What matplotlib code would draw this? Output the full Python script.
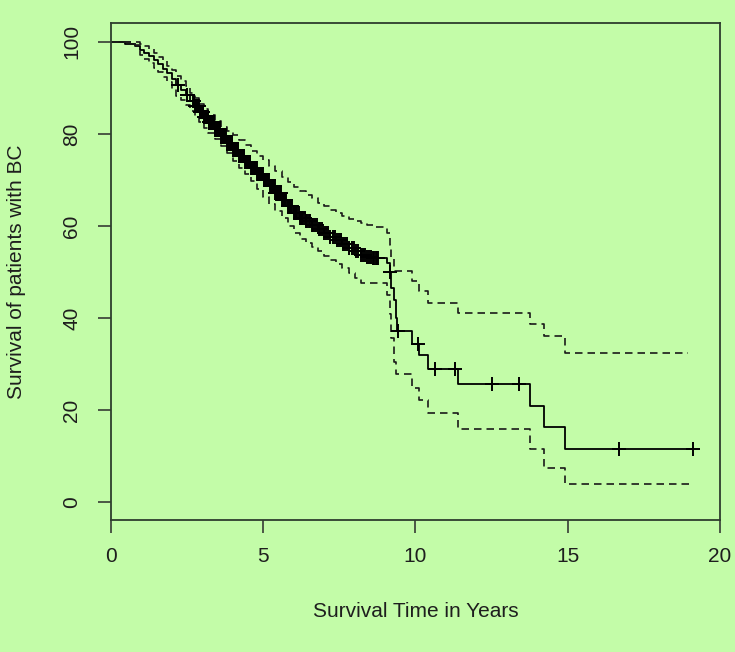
import numpy as np
import matplotlib.pyplot as plt

# Kaplan-Meier estimate (percent surviving)
time = [0, 0.45, 0.8, 0.95, 1.1, 1.25, 1.4, 1.55, 1.7, 1.85, 2.0, 2.15, 2.3, 2.45, 2.6,
        2.75, 2.9, 3.05, 3.2, 3.4, 3.6, 3.8, 4.0, 4.2, 4.4, 4.6, 4.8, 5.0, 5.2, 5.4,
        5.6, 5.8, 6.0, 6.2, 6.4, 6.6, 6.8, 7.0, 7.2, 7.4, 7.6, 7.8, 8.0, 8.2, 8.4,
        8.6, 9.05, 9.15, 9.2, 9.3, 9.35, 9.4, 9.9, 10.1, 10.4, 11.38, 13.76, 14.23,
        14.9, 19.1]
surv = [100, 99.6, 99.0, 98.3, 97.6, 96.9, 96.0, 95.2, 94.2, 93.2, 92.0, 90.6, 89.6, 88.4,
        87.2, 86.0, 84.8, 83.6, 82.5, 81.0, 79.6, 78.0, 76.6, 75.2, 73.9, 72.6, 71.3,
        70.0, 68.6, 67.2, 65.7, 64.3, 62.9, 61.8, 61.0, 60.2, 59.3, 58.5, 57.7, 56.9,
        56.1, 55.3, 54.5, 53.7, 53.3, 53.0, 52.0, 50.0, 46.6, 44.0, 40.0, 37.2, 34.5,
        32.0, 29.0, 25.7, 20.9, 16.3, 11.7, 11.7]

upper_time = [0, 0.8, 0.95, 1.1, 1.25, 1.4, 1.55, 1.7, 1.85, 2.0, 2.15, 2.3, 2.45, 2.6,
              2.75, 2.9, 3.05, 3.2, 3.4, 3.6, 3.8, 4.0, 4.2, 4.4, 4.6, 4.8, 5.0, 5.2,
              5.4, 5.6, 5.8, 6.0, 6.2, 6.4, 6.6, 6.8, 7.0, 7.2, 7.4, 7.6, 7.8, 8.0, 8.2,
              8.4, 8.6, 9.05, 9.15, 9.2, 9.3, 9.9, 10.1, 10.4, 11.38, 13.76, 14.23, 14.9,
              18.95]
upper = [100, 100, 99.6, 99.0, 98.4, 97.6, 96.8, 95.8, 94.8, 93.8, 92.6, 91.6, 90.4, 89.0,
         87.8, 86.6, 85.4, 84.2, 82.9, 81.6, 80.6, 79.7, 78.6, 77.5, 76.4, 75.3, 74.3,
         73.1, 71.9, 70.7, 69.5, 68.4, 67.6, 66.8, 66.0, 65.1, 64.3, 63.6, 62.9, 62.2,
         61.6, 61.0, 60.6, 60.2, 59.8, 58.5, 56.0, 53.0, 50.2, 48.0, 45.8, 43.4, 41.1,
         38.8, 36.1, 32.5, 32.5]

lower_time = [0, 0.8, 0.95, 1.1, 1.25, 1.4, 1.55, 1.7, 1.85, 2.0, 2.15, 2.3, 2.45, 2.6,
              2.75, 2.9, 3.05, 3.2, 3.4, 3.6, 3.8, 4.0, 4.2, 4.4, 4.6, 4.8, 5.0, 5.2,
              5.4, 5.6, 5.8, 6.0, 6.2, 6.4, 6.6, 6.8, 7.0, 7.2, 7.4, 7.6, 7.8, 8.0, 8.2,
              8.4, 8.6, 9.05, 9.15, 9.2, 9.3, 9.35, 9.9, 10.1, 10.4, 11.38, 13.76, 14.23,
              14.9, 19.1]
lower = [100, 99.4, 97.2, 96.3, 95.4, 94.4, 93.4, 92.3, 91.2, 89.8, 88.3, 87.4, 86.2, 85.0,
         83.8, 82.6, 81.4, 80.3, 78.8, 77.4, 75.8, 74.2, 72.7, 71.2, 69.7, 68.0, 66.4,
         64.8, 63.2, 61.7, 60.1, 58.5, 57.3, 56.3, 55.4, 54.5, 53.6, 52.7, 51.8, 50.8,
         49.8, 48.8, 47.7, 47.7, 47.7, 45.0, 41.0, 35.7, 30.5, 27.8, 24.9, 22.2, 19.5,
         16.0, 11.5, 7.5, 4.1, 4.1]

# censoring times (+ marks); very dense between 2.7 and 8.8 years
censored = [2.2, 2.48, 2.68, 2.71, 2.73, 2.76, 2.78, 2.81, 2.83, 2.86, 2.88, 2.91, 2.93,
            2.96, 2.98, 3.01, 3.03, 3.06, 3.08, 3.11, 3.13, 3.16, 3.18, 3.21, 3.23, 3.26,
            3.28, 3.31, 3.33, 3.36, 3.38, 3.41, 3.43, 3.46, 3.48, 3.51, 3.53, 3.56, 3.58,
            3.61, 3.63, 3.66, 3.68, 3.71, 3.73, 3.76, 3.78, 3.81, 3.83, 3.86, 3.88, 3.91,
            3.93, 3.96, 3.98, 4.01, 4.03, 4.06, 4.08, 4.11, 4.13, 4.16, 4.18, 4.21, 4.23,
            4.26, 4.28, 4.31, 4.33, 4.36, 4.38, 4.41, 4.43, 4.46, 4.48, 4.51, 4.53, 4.56,
            4.58, 4.61, 4.63, 4.66, 4.68, 4.71, 4.73, 4.76, 4.78, 4.81, 4.83, 4.86, 4.88,
            4.91, 4.93, 4.96, 4.98, 5.01, 5.04, 5.07, 5.1, 5.13, 5.16, 5.19, 5.22, 5.25,
            5.28, 5.31, 5.34, 5.37, 5.4, 5.43, 5.46, 5.49, 5.52, 5.55, 5.58, 5.61, 5.64,
            5.67, 5.7, 5.73, 5.76, 5.8, 5.84, 5.88, 5.92, 5.96, 6.0, 6.04, 6.08, 6.12,
            6.16, 6.2, 6.24, 6.28, 6.32, 6.36, 6.4, 6.45, 6.5, 6.55, 6.6, 6.65, 6.7,
            6.76, 6.82, 6.88, 6.94, 7.0, 7.06, 7.12, 7.2, 7.28, 7.35, 7.42, 7.5, 7.56,
            7.62, 7.68, 7.75, 7.82, 7.9, 7.97, 8.05, 8.12, 8.2, 8.28, 8.35, 8.42, 8.48,
            8.55, 8.6, 8.65, 8.7, 8.74, 8.78, 9.16, 9.43, 10.09, 10.64, 11.31, 12.5,
            13.4, 16.68, 19.1]

x_ticks = [0, 5, 10, 15, 20]
y_ticks = [0, 20, 40, 60, 80, 100]

bg = '#c3fca8'
ink = '#1e1e1e'

plt.rcParams['font.family'] = ['Liberation Sans', 'DejaVu Sans']

fig = plt.figure(figsize=(7.35, 6.52), dpi=100, facecolor=bg)
ax = fig.add_axes([0.151, 0.2025, 0.8286, 0.7623], facecolor=bg)

t = np.array(time)
s = np.array(surv)
ax.step(t, s, where='post', color='black', lw=1.3)
ax.step(upper_time, upper, where='post', color='#1a1a1a', lw=1.2, dashes=(4.5, 3))
ax.step(lower_time, lower, where='post', color='#1a1a1a', lw=1.2, dashes=(4.5, 3))

c = np.array(censored)
idx = np.searchsorted(t, c, side='right') - 1
ax.plot(c, s[idx], ls='none', marker='+', ms=10, mew=1.4, color='black')

ax.set_xlim(0, 20)
ax.set_ylim(-3.8, 104.1)
ax.set_xticks(x_ticks)
ax.set_yticks(y_ticks)
ax.set_yticklabels([str(v) for v in y_ticks], rotation=90, va='center')
ax.tick_params(axis='both', length=9.5, width=1.1, color='#2a2a2a', labelsize=15,
               labelcolor=ink, pad=10)
ax.tick_params(axis='y', pad=12)
for sp in ax.spines.values():
    sp.set_color('#2e3d2e')
    sp.set_linewidth(1.3)

ax.set_xlabel('Survival Time in Years', fontsize=15, color=ink, labelpad=26)
ax.set_ylabel('Survival of patients with BC', fontsize=15, color=ink, labelpad=26)

fig.savefig('out.png', dpi=100, facecolor=bg)
